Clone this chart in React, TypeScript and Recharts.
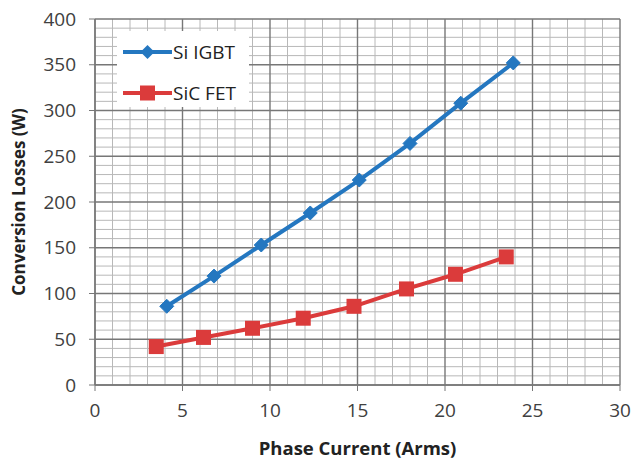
import { Line, LineChart, ReferenceLine, XAxis, YAxis } from "recharts";

const siIgbtCurrent = [4.1, 6.8, 9.5, 12.3, 15.1, 18.0, 20.9, 23.9];
const siIgbtLoss = [86, 119, 153, 188, 224, 264, 308, 352];
const sicFetCurrent = [3.5, 6.2, 9.0, 11.9, 14.8, 17.8, 20.6, 23.5];
const sicFetLoss = [42, 52, 62, 73, 86, 105, 121, 140];

const xTicks = [0, 5, 10, 15, 20, 25, 30];
const yTicks = [0, 50, 100, 150, 200, 250, 300, 350, 400];
const xMinor = Array.from({ length: 31 }, (_, i) => i).filter((v) => v % 5 !== 0);
const yMinor = Array.from({ length: 41 }, (_, i) => i * 10).filter((v) => v % 50 !== 0);

const BLUE = "#2477c0";
const RED = "#db3b3b";
const MINOR = "#b8b8b8";
const MAJOR = "#777";
const FONT = "'Open Sans', 'Liberation Sans', sans-serif";

const siIgbtData = siIgbtCurrent.map((x, i) => ({ x, y: siIgbtLoss[i] }));
const sicFetData = sicFetCurrent.map((x, i) => ({ x, y: sicFetLoss[i] }));

const Diamond = ({ cx, cy }: any) => {
  if (cx == null || cy == null) return null;
  const r = 7;
  return (
    <polygon
      points={`${cx},${cy - r} ${cx + r},${cy} ${cx},${cy + r} ${cx - r},${cy}`}
      fill={BLUE}
      stroke={BLUE}
    />
  );
};

const Square = ({ cx, cy }: any) => {
  if (cx == null || cy == null) return null;
  const s = 15;
  return <rect x={cx - s / 2} y={cy - s / 2} width={s} height={s} fill={RED} />;
};

// legend drawn as an overlay box, like the one sitting on the grid in the original
const LegendBox = () => (
  <div style={{ position: "absolute", left: 117, top: 31, width: 132, height: 76, background: "#fff" }}>
    <svg width={132} height={76}>
      <line x1={6} y1={21} x2={55} y2={21} stroke={BLUE} strokeWidth={4} />
      <polygon points="30.5,14 37.5,21 30.5,28 23.5,21" fill={BLUE} />
      <text x={56} y={28} fontSize={19} fill="#222" fontFamily={FONT}>Si IGBT</text>
      <line x1={6} y1={62} x2={55} y2={62} stroke={RED} strokeWidth={4} />
      <rect x={23} y={54.5} width={15} height={15} fill={RED} />
      <text x={56} y={69} fontSize={19} fill="#222" fontFamily={FONT}>SiC FET</text>
    </svg>
  </div>
);

export default function App() {
  return (
    <div style={{ position: "absolute", left: 0, top: 0, width: 633, height: 459, background: "#fff" }}>
      <LineChart
        width={633}
        height={459}
        margin={{ top: 19, right: 13, bottom: 0, left: 0 }}
      >
        {xMinor.map((v) => (
          <ReferenceLine key={`xm${v}`} x={v} stroke={MINOR} strokeWidth={1} />
        ))}
        {yMinor.map((v) => (
          <ReferenceLine key={`ym${v}`} y={v} stroke={MINOR} strokeWidth={1} />
        ))}
        {xTicks.map((v) => (
          <ReferenceLine key={`xM${v}`} x={v} stroke={MAJOR} strokeWidth={1.4} />
        ))}
        {yTicks.map((v) => (
          <ReferenceLine key={`yM${v}`} y={v} stroke={MAJOR} strokeWidth={1.4} />
        ))}
        <XAxis
          type="number"
          dataKey="x"
          domain={[0, 30]}
          ticks={xTicks}
          height={74}
          tickSize={6}
          tickMargin={13}
          axisLine={{ stroke: MAJOR, strokeWidth: 1.4 }}
          tickLine={{ stroke: MAJOR }}
          tick={{ fill: "#404040", fontSize: 19, fontFamily: FONT }}
          label={{
            value: "Phase Current (Arms)",
            position: "insideBottom",
            offset: 4,
            style: { fill: "#222", fontSize: 18.5, fontWeight: 700, fontFamily: FONT },
          }}
        />
        <YAxis
          type="number"
          dataKey="y"
          domain={[0, 400]}
          ticks={yTicks}
          width={95}
          tickSize={6}
          tickMargin={13}
          axisLine={{ stroke: MAJOR, strokeWidth: 1.4 }}
          tickLine={{ stroke: MAJOR }}
          tick={{ fill: "#404040", fontSize: 19, fontFamily: FONT }}
          label={{
            value: "Conversion Losses (W)",
            angle: -90,
            position: "insideLeft",
            offset: 19,
            style: { textAnchor: "middle", fill: "#222", fontSize: 17, fontWeight: 700, fontFamily: FONT },
          }}
        />
        <Line
          data={siIgbtData}
          dataKey="y"
          name="Si IGBT"
          stroke={BLUE}
          strokeWidth={4}
          dot={<Diamond />}
          activeDot={false}
          isAnimationActive={false}
        />
        <Line
          data={sicFetData}
          dataKey="y"
          name="SiC FET"
          stroke={RED}
          strokeWidth={4}
          dot={<Square />}
          activeDot={false}
          isAnimationActive={false}
        />
      </LineChart>
      <LegendBox />
    </div>
  );
}
